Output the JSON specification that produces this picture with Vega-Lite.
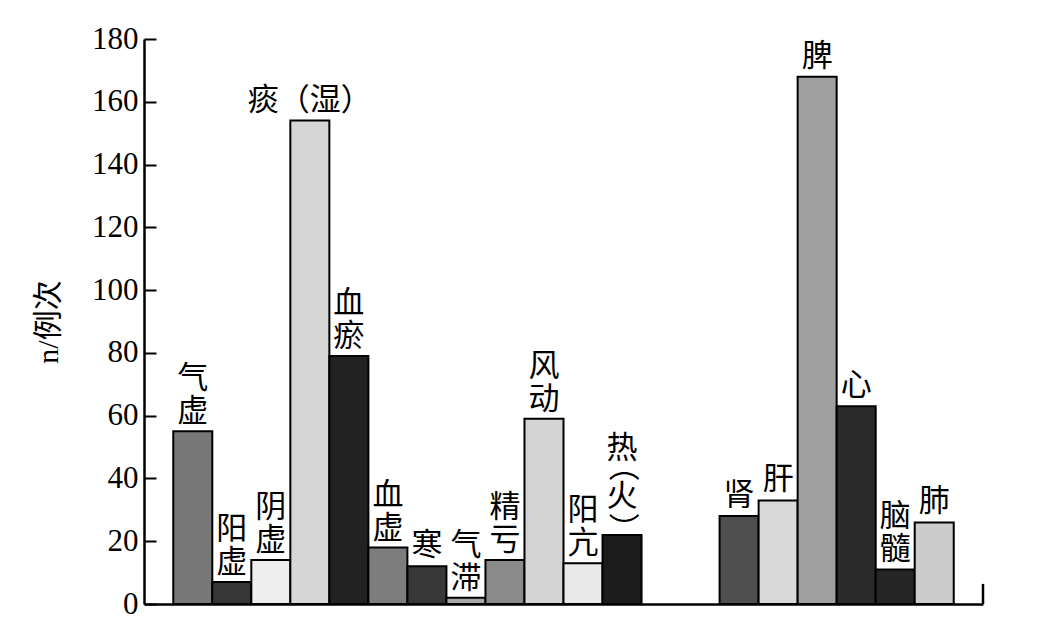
{
  "$schema": "https://vega.github.io/schema/vega-lite/v6.json",
  "width": 839,
  "height": 565,
  "autosize": "none",
  "padding": {"left": 144, "top": 39, "right": 57, "bottom": 30},
  "background": "white",
  "config": {
    "view": {"stroke": null},
    "font": "Liberation Serif"
  },
  "data": {
    "values": [
      {"category": "气虚", "value": 55, "label": "气\n虚"},
      {"category": "阳虚", "value": 7, "label": "阳\n虚"},
      {"category": "阴虚", "value": 14, "label": "阴\n虚"},
      {"category": "痰(湿)", "value": 154, "label": "痰（湿）"},
      {"category": "血瘀", "value": 79, "label": "血\n瘀"},
      {"category": "血虚", "value": 18, "label": "血\n虚"},
      {"category": "寒", "value": 12, "label": "寒"},
      {"category": "气滞", "value": 2, "label": "气\n滞"},
      {"category": "精亏", "value": 14, "label": "精\n亏"},
      {"category": "风动", "value": 59, "label": "风\n动"},
      {"category": "阳亢", "value": 13, "label": "阳\n亢"},
      {"category": "热(火)", "value": 22, "label": "热\n火"},
      {"category": "肾", "value": 28, "label": "肾"},
      {"category": "肝", "value": 33, "label": "肝"},
      {"category": "脾", "value": 168, "label": "脾"},
      {"category": "心", "value": 63, "label": "心"},
      {"category": "脑髓", "value": 11, "label": "脑\n髓"},
      {"category": "肺", "value": 26, "label": "肺"}
    ]
  },
  "encoding": {
    "x": {
      "field": "category",
      "type": "nominal",
      "sort": null,
      "scale": {
        "domain": ["气虚", "阳虚", "阴虚", "痰(湿)", "血瘀", "血虚", "寒", "气滞", "精亏", "风动", "阳亢", "热(火)", "gap1", "gap2", "肾", "肝", "脾", "心", "脑髓", "肺"],
        "paddingInner": 0,
        "paddingOuter": 0.75
      },
      "axis": {
        "title": null,
        "labels": false,
        "ticks": false,
        "domainColor": "black",
        "domainWidth": 2.5
      }
    },
    "y": {
      "field": "value",
      "type": "quantitative",
      "scale": {"domain": [0, 180], "nice": false},
      "axis": {
        "title": "n/例次",
        "values": [0, 20, 40, 60, 80, 100, 120, 140, 160, 180],
        "grid": false,
        "domainColor": "black",
        "domainWidth": 2.5,
        "tickColor": "black",
        "tickWidth": 2,
        "tickSize": -12,
        "labelPadding": 18,
        "labelFont": "Liberation Serif",
        "labelFontSize": 31,
        "labelColor": "black",
        "titleFont": "Liberation Serif, Noto Sans CJK SC",
        "titleFontSize": 30,
        "titleFontWeight": "normal",
        "titleColor": "black",
        "titlePadding": 28
      }
    }
  },
  "layer": [
    {
      "mark": {"type": "bar", "stroke": "black", "strokeWidth": 2},
      "encoding": {
        "color": {
          "field": "category",
          "type": "nominal",
          "legend": null,
          "scale": {
            "domain": ["气虚", "阳虚", "阴虚", "痰(湿)", "血瘀", "血虚", "寒", "气滞", "精亏", "风动", "阳亢", "热(火)", "肾", "肝", "脾", "心", "脑髓", "肺"],
            "range": ["#787878", "#363636", "#eeeeee", "#d6d6d6", "#222222", "#7d7d7d", "#383838", "#a8a8a8", "#8a8a8a", "#d4d4d4", "#e9e9e9", "#1c1c1c", "#4f4f4f", "#d9d9d9", "#a0a0a0", "#2b2b2b", "#262626", "#cccccc"]
          }
        }
      }
    },
    {
      "transform": [{"filter": "indexof(datum.label, '\\n') < 0"}],
      "mark": {
        "type": "text",
        "font": "Noto Sans CJK SC",
        "fontSize": 31,
        "baseline": "bottom",
        "align": "center",
        "dy": -4,
        "color": "black"
      },
      "encoding": {"text": {"field": "label"}}
    },
    {
      "transform": [{"filter": "length(datum.label) === 3 && datum.category !== '热(火)'"}],
      "mark": {
        "type": "text",
        "font": "Noto Sans CJK SC",
        "fontSize": 31,
        "lineHeight": 33,
        "lineBreak": "\n",
        "baseline": "bottom",
        "align": "center",
        "dy": -36,
        "color": "black"
      },
      "encoding": {"text": {"field": "label"}}
    },
    {
      "transform": [{"filter": "datum.category === '热(火)'"}],
      "mark": {
        "type": "text",
        "font": "Noto Sans CJK SC",
        "fontSize": 31,
        "lineHeight": 48,
        "lineBreak": "\n",
        "baseline": "bottom",
        "align": "center",
        "dy": -70,
        "color": "black"
      },
      "encoding": {"text": {"field": "label"}}
    },
    {
      "transform": [{"filter": "datum.category === '热(火)'"}],
      "mark": {
        "type": "text",
        "font": "Noto Sans CJK SC",
        "fontSize": 31,
        "angle": 90,
        "baseline": "middle",
        "align": "center",
        "dx": -38,
        "color": "black"
      },
      "encoding": {"text": {"value": "（　）"}}
    },
    {
      "transform": [{"filter": "datum.category === '肺'"}],
      "mark": {"type": "rule", "stroke": "black", "strokeWidth": 2.5},
      "encoding": {
        "x": {"field": "category", "type": "nominal", "bandPosition": 1.75},
        "y": {"datum": 0},
        "y2": {"datum": 6.4}
      }
    }
  ]
}
